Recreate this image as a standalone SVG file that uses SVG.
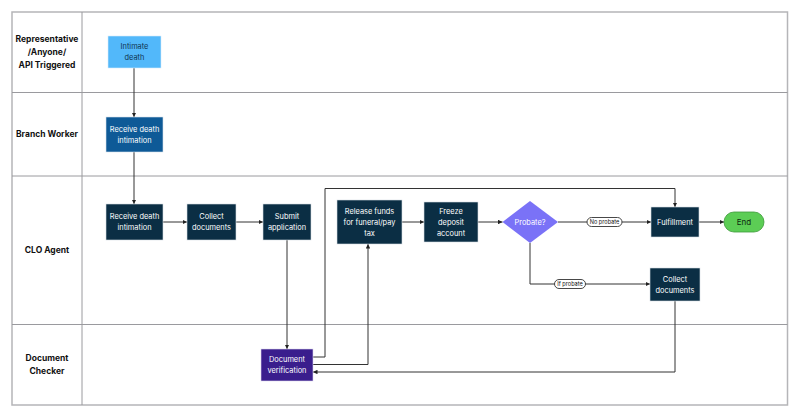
<svg xmlns="http://www.w3.org/2000/svg" width="800" height="417" viewBox="0 0 800 417">
<defs>
<marker id="ah" viewBox="0 0 10 10" refX="10" refY="5" markerWidth="4.5" markerHeight="4.5" orient="auto" markerUnits="userSpaceOnUse">
<path d="M0,0 L10,5 L0,10 z" fill="#222"/>
</marker>
<style>
.lane{font-family:Inter,"Liberation Sans",sans-serif;font-weight:700;font-size:8.5px;fill:#111;text-anchor:middle}
.nt{font-family:Inter,"Liberation Sans",sans-serif;font-size:7.4px;fill:#fff;text-anchor:middle}
.dark{fill:#0b2e44;stroke:#d8dde3;stroke-width:0.6}
.conn{fill:none;stroke:#333;stroke-width:1}
.pill{fill:#fff;stroke:#333;stroke-width:0.9}
.pt{font-family:Inter,"Liberation Sans",sans-serif;font-size:5.6px;fill:#111;text-anchor:middle}
</style>
</defs>
<rect width="800" height="417" fill="#fff"/>
<g id="lanes">
<rect x="12" y="12" width="775.5" height="393" fill="none" stroke="#b5b5b8" stroke-width="1.5"/>
<line x1="82" y1="12" x2="82" y2="405" stroke="#9a9a9e" stroke-width="1"/>
<line x1="12" y1="92.5" x2="787.5" y2="92.5" stroke="#9a9a9e" stroke-width="1"/>
<line x1="12" y1="176" x2="787.5" y2="176" stroke="#9a9a9e" stroke-width="1"/>
<line x1="12" y1="324.5" x2="787.5" y2="324.5" stroke="#9a9a9e" stroke-width="1"/>
<text class="lane" x="47" y="42">Representative</text>
<text class="lane" x="47" y="55">/Anyone/</text>
<text class="lane" x="47" y="68">API Triggered</text>
<text class="lane" x="47" y="137">Branch Worker</text>
<text class="lane" x="47" y="253">CLO Agent</text>
<text class="lane" x="47" y="361">Document</text>
<text class="lane" x="47" y="374">Checker</text>
</g>
<g id="connectors">
<path class="conn" d="M134,68 V117" marker-end="url(#ah)"/>
<path class="conn" d="M134,152 V204" marker-end="url(#ah)"/>
<path class="conn" d="M163,222 H187" marker-end="url(#ah)"/>
<path class="conn" d="M236,222 H263" marker-end="url(#ah)"/>
<path class="conn" d="M287,240 V349" marker-end="url(#ah)"/>
<path class="conn" d="M313,357 H325 V188.5 H675 V207" marker-end="url(#ah)"/>
<path class="conn" d="M313,364.5 H368 V244" marker-end="url(#ah)"/>
<path class="conn" d="M675,301 V372 H313" marker-end="url(#ah)"/>
<path class="conn" d="M402,222 H424" marker-end="url(#ah)"/>
<path class="conn" d="M478,222 H502.5" marker-end="url(#ah)"/>
<path class="conn" d="M558,222 H651" marker-end="url(#ah)"/>
<path class="conn" d="M530,243 V284 H650" marker-end="url(#ah)"/>
<path class="conn" d="M699,222 H724" marker-end="url(#ah)"/>
<rect class="pill" x="587" y="217.5" width="35" height="9" rx="4.5"/>
<text class="pt" x="604.5" y="224">No probate</text>
<rect class="pill" x="554.5" y="279.5" width="31" height="9" rx="4.5"/>
<text class="pt" x="570" y="286">If probate</text>
</g>
<g id="n-intimate">
<rect x="108" y="36" width="53" height="32" fill="#52b8fa" stroke="#d6ecfb" stroke-width="0.6"/>
<text class="nt" x="134.5" y="49" style="fill:#0f3350">Intimate</text>
<text class="nt" x="134.5" y="60" style="fill:#0f3350">death</text>
</g>
<g id="n-branch-receive">
<rect x="106" y="117" width="57" height="35" fill="#0e5a97" stroke="#d8e2ea" stroke-width="0.6"/>
<text class="nt" x="134.5" y="131.5">Receive death</text>
<text class="nt" x="134.5" y="142.5">intimation</text>
</g>
<g id="n-clo-receive">
<rect class="dark" x="106" y="204" width="57" height="36"/>
<text class="nt" x="134.5" y="219">Receive death</text>
<text class="nt" x="134.5" y="230">intimation</text>
</g>
<g id="n-collect1">
<rect class="dark" x="187" y="204" width="49" height="36"/>
<text class="nt" x="211.5" y="219">Collect</text>
<text class="nt" x="211.5" y="230">documents</text>
</g>
<g id="n-submit">
<rect class="dark" x="263" y="204" width="48" height="36"/>
<text class="nt" x="287" y="219">Submit</text>
<text class="nt" x="287" y="230">application</text>
</g>
<g id="n-release">
<rect class="dark" x="337" y="200" width="65" height="44"/>
<text class="nt" x="369.5" y="214">Release funds</text>
<text class="nt" x="369.5" y="225">for funeral/pay</text>
<text class="nt" x="369.5" y="236">tax</text>
</g>
<g id="n-freeze">
<rect class="dark" x="424" y="202" width="54" height="40"/>
<text class="nt" x="451" y="214">Freeze</text>
<text class="nt" x="451" y="225">deposit</text>
<text class="nt" x="451" y="236">account</text>
</g>
<g id="n-probate">
<polygon points="530,201 558,222 530,243 502.5,222" fill="#7a72f7"/>
<text class="nt" x="530" y="225">Probate?</text>
</g>
<g id="n-fulfillment">
<rect class="dark" x="651" y="207" width="48" height="30"/>
<text class="nt" x="675" y="225">Fulfillment</text>
</g>
<g id="n-end">
<rect x="724" y="212" width="40" height="20" rx="10" fill="#5ccd55" stroke="#3e9b3a" stroke-width="0.8"/>
<text class="nt" x="744" y="225" style="fill:#0d2a10;font-size:8px">End</text>
</g>
<g id="n-collect2">
<rect class="dark" x="650" y="268" width="50" height="33"/>
<text class="nt" x="675" y="281.5">Collect</text>
<text class="nt" x="675" y="292.5">documents</text>
</g>
<g id="n-docverif">
<rect x="261" y="349" width="52" height="32" fill="#3a1e8d" stroke="#dcd6ee" stroke-width="0.6"/>
<text class="nt" x="287" y="362">Document</text>
<text class="nt" x="287" y="373">verification</text>
</g>
</svg>
